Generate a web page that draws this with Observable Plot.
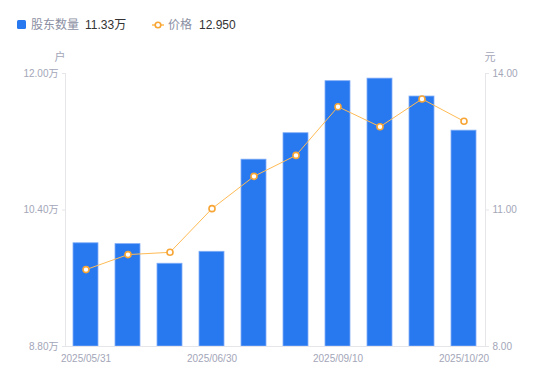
<!DOCTYPE html>
<html>
<head>
<meta charset="utf-8">
<script src="https://cdn.jsdelivr.net/npm/d3@7"></script>
<script src="https://cdn.jsdelivr.net/npm/@observablehq/plot@0.6"></script>
<style>
  body { margin: 0; background: #fff; font-family: "Liberation Sans", Arial, "Noto Sans CJK SC", sans-serif; }
  #legend { position: relative; width: 550px; height: 48px; font-size: 12px; }
  #legend span { position: absolute; white-space: nowrap; line-height: 14px; }
  .lab { color: #8b8fa3; }
  .val { color: #333; }
  #chart svg { display: block; }
</style>
</head>
<body>
<div id="legend">
  <span style="left:17px;top:20px;width:9px;height:9px;background:#2878f0;border-radius:1.5px"></span>
  <span class="lab" style="left:31px;top:18px">股东数量</span>
  <span class="val" style="left:85px;top:18px">11.33万</span>
  <svg style="position:absolute;left:152px;top:19px" width="12" height="12"><line x1="0" y1="6" x2="12" y2="6" stroke="#ffb84d" stroke-width="1.5"/><circle cx="6" cy="6" r="2.8" fill="#fff" stroke="#f7a535" stroke-width="1.6"/></svg>
  <span class="lab" style="left:168px;top:18px">价格</span>
  <span class="val" style="left:199px;top:18px">12.950</span>
</div>
<div id="chart"></div>
<script>
const dates = ["2025/05/31","2025/06/10","2025/06/20","2025/06/30","2025/07/31","2025/08/31","2025/09/10","2025/09/20","2025/09/30","2025/10/20"];
const holders = [10.01, 10.00, 9.77, 9.91, 10.99, 11.30, 11.91, 11.94, 11.73, 11.33]; // 万户
const prices = [9.69, 10.02, 10.07, 11.03, 11.74, 12.20, 13.27, 12.83, 13.44, 12.95]; // 元
const xTickLabels = ["2025/05/31","2025/06/30","2025/09/10","2025/10/20"];
const leftTicks = [8.8, 10.4, 12.0];
const rightTicks = [8, 11, 14];

const lMin = 8.8, lMax = 12.0, rMin = 8, rMax = 14;
const toLeft = p => lMin + (p - rMin) * (lMax - lMin) / (rMax - rMin);

const data = dates.map((d, i) => ({date: d, holders: holders[i], price: prices[i], pl: toLeft(prices[i])}));

const gray = "#a3a6b8";
const axisLine = "#e6e6ea";

const chart = Plot.plot({
  width: 550,
  height: 333,
  marginLeft: 65,
  marginRight: 65,
  marginTop: 25,
  marginBottom: 35,
  style: {fontFamily: "'Liberation Sans', Arial, 'Noto Sans CJK SC', sans-serif", fontSize: "10px", color: gray, background: "#fff"},
  x: {type: "band", domain: dates, paddingInner: 0.4, paddingOuter: 0.2, align: 0.5},
  y: {domain: [lMin, lMax]},
  marks: [
    Plot.frame({anchor: "left", stroke: axisLine}),
    Plot.frame({anchor: "right", stroke: axisLine}),
    Plot.barY(data, {x: "date", y1: lMin, y2: "holders", fill: "#2878f0", stroke: "#7fadf7", strokeWidth: 0.8}),
    Plot.ruleY([lMin], {stroke: axisLine}),
    Plot.axisY({anchor: "left", ticks: leftTicks, tickFormat: d => d.toFixed(2) + "万", tickSize: 3, tickPadding: 4, stroke: axisLine, fill: gray, label: null}),
    Plot.axisY({anchor: "right", ticks: rightTicks.map(toLeft), tickFormat: (d, i) => rightTicks[i].toFixed(2), tickSize: 3, tickPadding: 4, stroke: axisLine, fill: gray, label: null}),
    Plot.axisX({ticks: xTickLabels, tickSize: 0, tickPadding: 8, fill: gray, label: null}),
    Plot.line(data, {x: "date", y: "pl", stroke: "#ffbb55", strokeWidth: 1}),
    Plot.dot(data, {x: "date", y: "pl", r: 3, fill: "#fff", stroke: "#f7a535", strokeWidth: 1.6}),
    Plot.text(["户"], {frameAnchor: "top-left", dx: -11, dy: -20, fill: gray, fontSize: 11}),
    Plot.text(["元"], {frameAnchor: "top-right", dx: 10, dy: -20, fill: gray, fontSize: 11})
  ]
});

document.getElementById("chart").appendChild(chart);
</script>
</body>
</html>
